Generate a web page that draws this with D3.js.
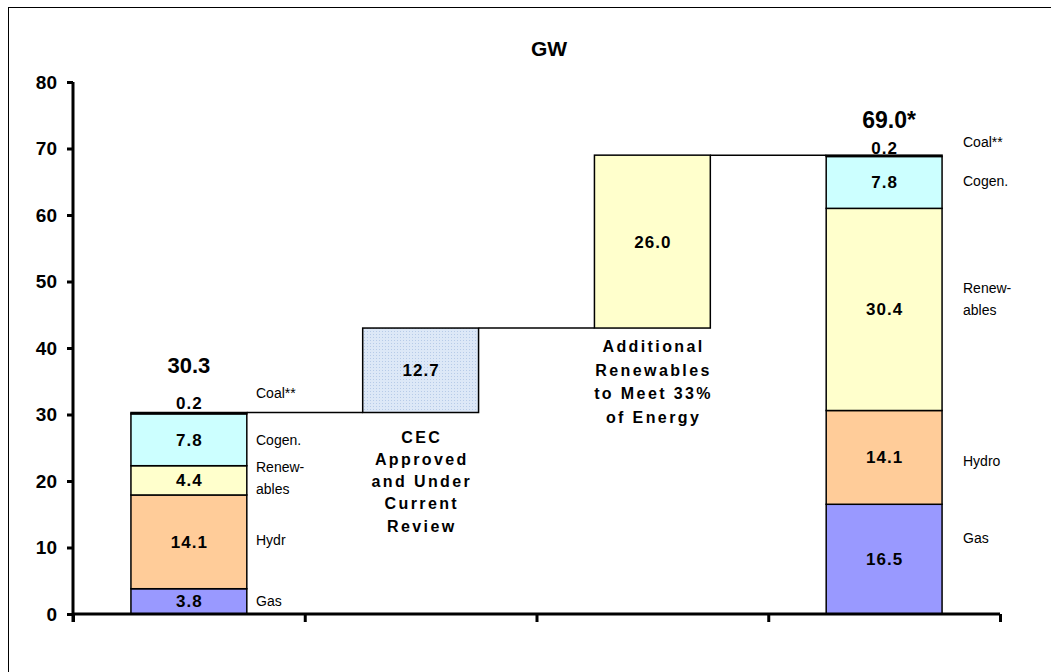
<!DOCTYPE html>
<html lang="en">
<head>
  <meta charset="UTF-8">
  <title>GW</title>
  <script src="https://d3js.org/d3.v7.min.js"></script>
  <style>
    body { margin: 0; background: #fff; }
    text { font-family: "Liberation Sans", Arial, sans-serif; }
  </style>
</head>
<body>
  <div id="my_dataviz"></div>
  <script>

    // data
    var categories = ["Existing", "CEC", "Additional", "Total"];
    var sources = ["Gas", "Hydro", "Renewables", "Cogen", "Coal"];
    var existingValues = [3.8, 14.1, 4.4, 7.8, 0.2];
    var totalValues = [16.5, 14.1, 30.4, 7.8, 0.2];
    var existingSideLabels = [["Gas"], ["Hydr"], ["Renew-", "ables"], ["Cogen."], ["Coal**"]];
    var totalSideLabels = [["Gas"], ["Hydro"], ["Renew-", "ables"], ["Cogen."], ["Coal**"]];
    var cecValue = 12.7;
    var additionalValue = 26.0;
    var cecLabel = ["CEC", "Approved", "and Under", "Current", "Review"];
    var additionalLabel = ["Additional", "Renewables", "to Meet 33%", "of Energy"];
    var totalLabels = ["30.3", "69.0*"];
    var yTicks = [0, 10, 20, 30, 40, 50, 60, 70, 80];

    var colors = { Gas: "#9999FF", Hydro: "#FFCC99", Renewables: "#FFFFCC", Cogen: "#CCFFFF", Coal: "#000000" };

    var W = 1051, H = 672;
    var svg = d3.select("#my_dataviz").append("svg")
      .attr("width", W).attr("height", H);

    // outer frame (right and bottom edges fall outside the picture)
    svg.append("rect")
      .attr("x", 8.5).attr("y", 7.5)
      .attr("width", W + 20).attr("height", H + 20)
      .attr("fill", "none").attr("stroke", "#000").attr("stroke-width", 1);

    var defs = svg.append("defs");
    var pat = defs.append("pattern")
      .attr("id", "dots").attr("patternUnits", "userSpaceOnUse")
      .attr("width", 3).attr("height", 3);
    pat.append("rect").attr("width", 3).attr("height", 3).attr("fill", "#DDE8F7");
    pat.append("rect").attr("x", 1).attr("y", 1).attr("width", 1).attr("height", 1).attr("fill", "#B7CBE8");

    var x = d3.scaleBand().domain(categories).range([73, 1000])
      .paddingInner(0.5).paddingOuter(0.25);
    var xEdges = d3.scaleLinear().domain([0, categories.length]).range([73, 1000]);
    var y = d3.scaleLinear().domain([0, 80]).range([614, 82]);

    // title
    svg.append("text").attr("x", 549).attr("y", 56)
      .attr("text-anchor", "middle").attr("font-size", 21).attr("font-weight", "bold")
      .text("GW");

    function valueText(cx, cy, t) {
      return svg.append("text")
        .attr("x", cx).attr("y", cy)
        .attr("dx", 0.5)
        .attr("text-anchor", "middle").attr("font-size", 17).attr("font-weight", "bold")
        .attr("letter-spacing", "1px")
        .text(t);
    }

    // stacked bars
    function stacked(cat, values, sideLabels, labelX, sideOffsets) {
      var base = 0;
      var g = svg.append("g");
      values.forEach(function (v, i) {
        var y0 = base, y1 = base + v;
        base = y1;
        g.append("rect")
          .attr("x", x(cat)).attr("width", x.bandwidth())
          .attr("y", y(y1)).attr("height", y(y0) - y(y1))
          .attr("fill", colors[sources[i]])
          .attr("stroke", "#000").attr("stroke-width", 1.5);
        if (sources[i] !== "Coal") {
          valueText(x(cat) + x.bandwidth() / 2, (y(y0) + y(y1)) / 2 + 6, v.toFixed(1));
        }
        var lines = sideLabels[i];
        var cy = (y(y0) + y(y1)) / 2 + sideOffsets[i];
        lines.forEach(function (t, k) {
          g.append("text")
            .attr("x", labelX)
            .attr("y", cy + (k - (lines.length - 1) / 2) * 22 + 5)
            .attr("font-size", 14)
            .text(t);
        });
      });
      return base;
    }

    var top1 = stacked("Existing", existingValues, existingSideLabels, 256, [0, -2, -2, 0, -20]);
    var top4 = stacked("Total", totalValues, totalSideLabels, 963, [-21, 4, -10, -1, -14]);

    // coal value and totals above stacked bars
    valueText(x("Existing") + x.bandwidth() / 2, y(top1) - 4, existingValues[4].toFixed(1));
    valueText(x("Total") + x.bandwidth() / 2, y(top4) - 1, totalValues[4].toFixed(1));
    svg.append("text").attr("x", x("Existing") + x.bandwidth() / 2).attr("y", y(top1) - 40)
      .attr("text-anchor", "middle").attr("font-size", 22).attr("font-weight", "bold")
      .text(totalLabels[0]);
    svg.append("text").attr("x", x("Total") + x.bandwidth() / 2 + 5).attr("y", y(top4) - 27)
      .attr("text-anchor", "middle").attr("font-size", 23).attr("font-weight", "bold")
      .text(totalLabels[1]);

    // floating bars
    var cecBase = top1, cecTop = top1 + cecValue;
    var addBase = cecTop, addTop = cecTop + additionalValue;
    var floats = [
      { cat: "CEC", b: cecBase, t: cecTop, v: cecValue, fill: "url(#dots)", lines: cecLabel, off: 25, step: 22.3 },
      { cat: "Additional", b: addBase, t: addTop, v: additionalValue, fill: colors.Renewables, lines: additionalLabel, off: 19, step: 23.7 }
    ];
    floats.forEach(function (f) {
      svg.append("rect")
        .attr("x", x(f.cat)).attr("width", x.bandwidth())
        .attr("y", y(f.t)).attr("height", y(f.b) - y(f.t))
        .attr("fill", f.fill).attr("stroke", "#000").attr("stroke-width", 1.5);
      valueText(x(f.cat) + x.bandwidth() / 2, (y(f.b) + y(f.t)) / 2 + 6, f.v.toFixed(1));
      f.lines.forEach(function (t, k) {
        svg.append("text")
          .attr("x", x(f.cat) + x.bandwidth() / 2)
          .attr("dx", 1.2)
          .attr("y", y(f.b) + f.off + k * f.step + 5)
          .attr("text-anchor", "middle").attr("font-size", 16).attr("font-weight", "bold")
          .attr("letter-spacing", "2.4px")
          .text(t);
      });
    });

    // connector lines
    var levels = [top1, cecTop, addTop];
    for (var i = 0; i < 3; i++) {
      svg.append("line")
        .attr("x1", x(categories[i]) + x.bandwidth()).attr("x2", x(categories[i + 1]))
        .attr("y1", y(levels[i])).attr("y2", y(levels[i]))
        .attr("stroke", "#000").attr("stroke-width", 1.5);
    }

    // axes
    var yAxis = svg.append("g")
      .attr("transform", "translate(73,0)")
      .call(d3.axisLeft(y).tickValues(yTicks).tickSize(6).tickPadding(10));
    yAxis.select(".domain").attr("stroke-width", 3).attr("d", "M0," + y(80) + "V" + (y(0) + 8));
    yAxis.selectAll(".tick line").attr("stroke-width", 3);
    yAxis.selectAll("text").attr("font-size", 19).attr("font-weight", "bold")
      .attr("font-family", "Liberation Sans, Arial, sans-serif");

    var xAxis = svg.append("g")
      .attr("transform", "translate(0," + y(0) + ")")
      .call(d3.axisBottom(xEdges).tickValues(d3.range(categories.length + 1)).tickSize(8).tickFormat(""));
    xAxis.select(".domain").attr("stroke-width", 3).attr("d", "M" + xEdges(0) + ",0H" + xEdges(categories.length));
    xAxis.selectAll(".tick line").attr("stroke-width", 3);

  </script>
</body>
</html>
